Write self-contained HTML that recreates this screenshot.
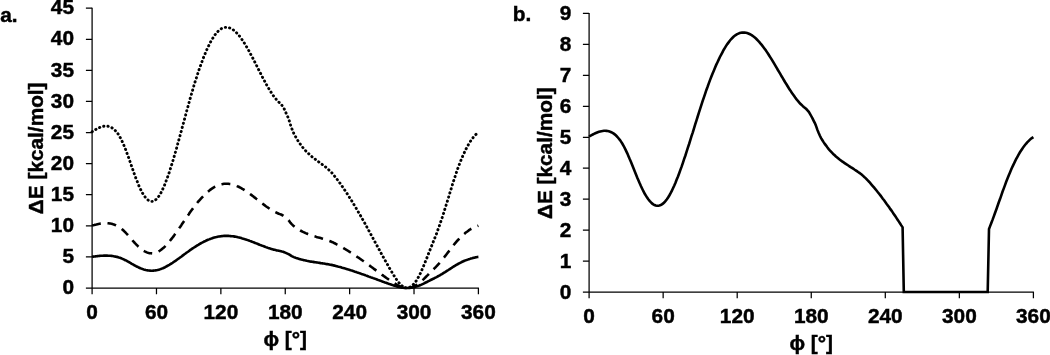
<!DOCTYPE html>
<html lang="en"><head><meta charset="utf-8"><title>Torsional energy profiles</title>
<style>
html,body{margin:0;padding:0;background:#fff;}
body{width:1050px;height:355px;overflow:hidden;}
svg{display:block;}
</style></head><body>
<svg width="1050" height="355" viewBox="0 0 1050 355">
<rect width="1050" height="355" fill="#fff"/>
<g font-family="'Liberation Sans', sans-serif" font-weight="bold" font-size="20.8" fill="#000" stroke="#000" stroke-width="0.45">
<text transform="translate(0.20,22.30) scale(1,1)" text-anchor="start" font-size="20.8">a.</text>
<text transform="translate(512.70,21.30) scale(1,1)" text-anchor="start" font-size="20.8">b.</text>
<g stroke="#000" stroke-width="1.25" fill="none" shape-rendering="auto">
<path d="M92.10,7.68 V294.20 M85.90,288.00 H478.90"/>
<path d="M85.90,256.91 H92.10 M85.90,225.82 H92.10 M85.90,194.73 H92.10 M85.90,163.64 H92.10 M85.90,132.54 H92.10 M85.90,101.45 H92.10 M85.90,70.36 H92.10 M85.90,39.27 H92.10 M85.90,8.18 H92.10 M156.48,288.00 V294.20 M220.87,288.00 V294.20 M285.25,288.00 V294.20 M349.63,288.00 V294.20 M414.02,288.00 V294.20 M478.40,288.00 V294.20 "/>
</g>
<text transform="translate(74.00,294.20) scale(1,1)" text-anchor="end" font-size="20.8">0</text>
<text transform="translate(74.00,263.11) scale(1,1)" text-anchor="end" font-size="20.8">5</text>
<text transform="translate(74.00,232.02) scale(1,1)" text-anchor="end" font-size="20.8">10</text>
<text transform="translate(74.00,200.93) scale(1,1)" text-anchor="end" font-size="20.8">15</text>
<text transform="translate(74.00,169.84) scale(1,1)" text-anchor="end" font-size="20.8">20</text>
<text transform="translate(74.00,138.74) scale(1,1)" text-anchor="end" font-size="20.8">25</text>
<text transform="translate(74.00,107.65) scale(1,1)" text-anchor="end" font-size="20.8">30</text>
<text transform="translate(74.00,76.56) scale(1,1)" text-anchor="end" font-size="20.8">35</text>
<text transform="translate(74.00,45.47) scale(1,1)" text-anchor="end" font-size="20.8">40</text>
<text transform="translate(74.00,14.38) scale(1,1)" text-anchor="end" font-size="20.8">45</text>
<text transform="translate(92.10,319.20) scale(1,1)" text-anchor="middle" font-size="20.8">0</text>
<text transform="translate(156.48,319.20) scale(1,1)" text-anchor="middle" font-size="20.8">60</text>
<text transform="translate(220.87,319.20) scale(1,1)" text-anchor="middle" font-size="20.8">120</text>
<text transform="translate(285.25,319.20) scale(1,1)" text-anchor="middle" font-size="20.8">180</text>
<text transform="translate(349.63,319.20) scale(1,1)" text-anchor="middle" font-size="20.8">240</text>
<text transform="translate(414.02,319.20) scale(1,1)" text-anchor="middle" font-size="20.8">300</text>
<text transform="translate(478.40,319.20) scale(1,1)" text-anchor="middle" font-size="20.8">360</text>
<text transform="translate(43.40,148.30) rotate(-90) scale(1,1)" text-anchor="middle" font-size="20.8">ΔE [kcal/mol]</text>
<text transform="translate(285.25,346.10) scale(1,1)" text-anchor="middle" font-size="20.8">ϕ [°]</text>
<g stroke="#000" stroke-width="1.25" fill="none" shape-rendering="auto">
<path d="M589.10,12.96 V298.20 M582.90,292.00 H1033.90"/>
<path d="M582.90,261.05 H589.10 M582.90,230.10 H589.10 M582.90,199.15 H589.10 M582.90,168.20 H589.10 M582.90,137.26 H589.10 M582.90,106.31 H589.10 M582.90,75.36 H589.10 M582.90,44.41 H589.10 M582.90,13.46 H589.10 M663.15,292.00 V298.20 M737.20,292.00 V298.20 M811.25,292.00 V298.20 M885.30,292.00 V298.20 M959.35,292.00 V298.20 M1033.40,292.00 V298.20 "/>
</g>
<text transform="translate(571.30,298.70) scale(1,1)" text-anchor="end" font-size="20.8">0</text>
<text transform="translate(571.30,267.75) scale(1,1)" text-anchor="end" font-size="20.8">1</text>
<text transform="translate(571.30,236.80) scale(1,1)" text-anchor="end" font-size="20.8">2</text>
<text transform="translate(571.30,205.85) scale(1,1)" text-anchor="end" font-size="20.8">3</text>
<text transform="translate(571.30,174.90) scale(1,1)" text-anchor="end" font-size="20.8">4</text>
<text transform="translate(571.30,143.96) scale(1,1)" text-anchor="end" font-size="20.8">5</text>
<text transform="translate(571.30,113.01) scale(1,1)" text-anchor="end" font-size="20.8">6</text>
<text transform="translate(571.30,82.06) scale(1,1)" text-anchor="end" font-size="20.8">7</text>
<text transform="translate(571.30,51.11) scale(1,1)" text-anchor="end" font-size="20.8">8</text>
<text transform="translate(571.30,20.16) scale(1,1)" text-anchor="end" font-size="20.8">9</text>
<text transform="translate(589.10,323.00) scale(1,1)" text-anchor="middle" font-size="20.8">0</text>
<text transform="translate(663.15,323.00) scale(1,1)" text-anchor="middle" font-size="20.8">60</text>
<text transform="translate(737.20,323.00) scale(1,1)" text-anchor="middle" font-size="20.8">120</text>
<text transform="translate(811.25,323.00) scale(1,1)" text-anchor="middle" font-size="20.8">180</text>
<text transform="translate(885.30,323.00) scale(1,1)" text-anchor="middle" font-size="20.8">240</text>
<text transform="translate(959.35,323.00) scale(1,1)" text-anchor="middle" font-size="20.8">300</text>
<text transform="translate(1033.40,323.00) scale(1,1)" text-anchor="middle" font-size="20.8">360</text>
<text transform="translate(552.10,153.20) rotate(-90) scale(1,1)" text-anchor="middle" font-size="20.8">ΔE [kcal/mol]</text>
<text transform="translate(811.25,350.10) scale(1,1)" text-anchor="middle" font-size="20.8">ϕ [°]</text>
</g>
<g fill="none" stroke="#000" stroke-width="2.6" stroke-linejoin="round">
<path d="M92.1,131.8 L93.2,131.1 L94.2,130.4 L95.3,129.8 L96.4,129.1 L97.5,128.6 L98.5,128.0 L99.6,127.5 L100.7,127.1 L101.8,126.7 L102.8,126.4 L103.9,126.2 L105.0,126.1 L106.0,126.1 L107.1,126.1 L108.2,126.3 L109.3,126.6 L110.3,127.0 L111.4,127.5 L112.5,128.2 L113.6,129.0 L114.6,129.9 L115.7,131.0 L116.8,132.3 L117.9,133.7 L118.9,135.4 L120.0,137.2 L121.1,139.1 L122.1,141.3 L123.2,143.7 L124.3,146.3 L125.4,148.9 L126.4,151.7 L127.5,154.7 L128.6,157.6 L129.7,160.7 L130.7,163.7 L131.8,166.8 L132.9,169.9 L133.9,172.9 L135.0,175.9 L136.1,178.8 L137.2,181.5 L138.2,184.2 L139.3,186.7 L140.4,189.0 L141.5,191.2 L142.5,193.1 L143.6,194.9 L144.7,196.5 L145.8,197.8 L146.8,199.0 L147.9,199.9 L149.0,200.6 L150.0,201.1 L151.1,201.4 L152.2,201.4 L153.3,201.1 L154.3,200.7 L155.4,200.0 L156.5,199.0 L157.6,197.9 L158.6,196.5 L159.7,194.9 L160.8,193.1 L161.8,191.0 L162.9,188.8 L164.0,186.4 L165.1,183.8 L166.1,181.0 L167.2,178.2 L168.3,175.1 L169.4,172.0 L170.4,168.7 L171.5,165.3 L172.6,161.8 L173.7,158.2 L174.7,154.6 L175.8,150.9 L176.9,147.1 L177.9,143.2 L179.0,139.4 L180.1,135.4 L181.2,131.5 L182.2,127.5 L183.3,123.6 L184.4,119.6 L185.5,115.6 L186.5,111.7 L187.6,107.8 L188.7,103.9 L189.7,100.1 L190.8,96.3 L191.9,92.6 L193.0,88.9 L194.0,85.3 L195.1,81.8 L196.2,78.4 L197.3,75.1 L198.3,71.9 L199.4,68.7 L200.5,65.7 L201.6,62.7 L202.6,59.9 L203.7,57.1 L204.8,54.5 L205.8,51.9 L206.9,49.5 L208.0,47.1 L209.1,44.9 L210.1,42.8 L211.2,40.8 L212.3,39.0 L213.4,37.2 L214.4,35.6 L215.5,34.2 L216.6,32.8 L217.6,31.7 L218.7,30.6 L219.8,29.8 L220.9,29.0 L221.9,28.4 L223.0,27.9 L224.1,27.6 L225.2,27.4 L226.2,27.3 L227.3,27.4 L228.4,27.6 L229.5,27.9 L230.5,28.3 L231.6,28.8 L232.7,29.5 L233.7,30.2 L234.8,31.1 L235.9,32.1 L237.0,33.2 L238.0,34.3 L239.1,35.6 L240.2,37.0 L241.3,38.4 L242.3,40.0 L243.4,41.6 L244.5,43.3 L245.5,45.0 L246.6,46.8 L247.7,48.7 L248.8,50.6 L249.8,52.6 L250.9,54.6 L252.0,56.6 L253.1,58.7 L254.1,60.7 L255.2,62.8 L256.3,65.0 L257.4,67.1 L258.4,69.2 L259.5,71.3 L260.6,73.4 L261.6,75.5 L262.7,77.6 L263.8,79.6 L264.9,81.6 L265.9,83.6 L267.0,85.5 L268.1,87.4 L269.2,89.2 L270.2,90.9 L271.3,92.6 L272.4,94.2 L273.4,95.8 L274.5,97.2 L275.6,98.6 L276.7,99.9 L277.7,101.1 L278.8,102.1 L279.9,103.1 L281.0,104.2 L282.0,105.4 L283.1,107.0 L284.2,108.9 L285.2,111.2 L286.3,113.6 L287.4,116.0 L288.5,118.5 L289.5,121.6 L290.6,125.2 L291.7,128.3 L292.8,131.0 L293.8,133.4 L294.9,135.5 L296.0,137.4 L297.1,139.2 L298.1,141.0 L299.2,142.6 L300.3,144.1 L301.3,145.6 L302.4,147.0 L303.5,148.3 L304.6,149.5 L305.6,150.7 L306.7,151.8 L307.8,152.9 L308.9,153.9 L309.9,154.9 L311.0,155.9 L312.1,156.8 L313.1,157.6 L314.2,158.5 L315.3,159.3 L316.4,160.2 L317.4,161.0 L318.5,161.8 L319.6,162.5 L320.7,163.3 L321.7,164.1 L322.8,164.9 L323.9,165.7 L325.0,166.6 L326.0,167.4 L327.1,168.3 L328.2,169.3 L329.2,170.3 L330.3,171.3 L331.4,172.4 L332.5,173.6 L333.5,174.9 L334.6,176.2 L335.7,177.5 L336.8,178.9 L337.8,180.3 L338.9,181.8 L340.0,183.2 L341.0,184.7 L342.1,186.3 L343.2,187.8 L344.3,189.4 L345.3,191.0 L346.4,192.6 L347.5,194.2 L348.6,195.9 L349.6,197.6 L350.7,199.3 L351.8,201.0 L352.9,202.7 L353.9,204.5 L355.0,206.3 L356.1,208.1 L357.1,209.9 L358.2,211.7 L359.3,213.6 L360.4,215.4 L361.4,217.3 L362.5,219.2 L363.6,221.1 L364.7,223.0 L365.7,224.9 L366.8,226.9 L367.9,228.8 L368.9,230.8 L370.0,232.8 L371.1,234.8 L372.2,236.7 L373.2,238.7 L374.3,240.7 L375.4,242.7 L376.5,244.7 L377.5,246.6 L378.6,248.6 L379.7,250.6 L380.8,252.6 L381.8,254.5 L382.9,256.5 L384.0,258.4 L385.0,260.3 L386.1,262.2 L387.2,264.1 L388.3,266.0 L389.3,267.9 L390.4,269.7 L391.5,271.5 L392.6,273.3 L393.6,275.1 L394.7,276.7 L395.8,278.4 L396.8,279.9 L397.9,281.3 L399.0,282.7 L400.1,283.9 L401.1,284.9 L402.2,285.9 L403.3,286.7 L404.4,287.3 L405.4,287.7 L406.5,287.9 L407.6,287.9 L408.7,287.7 L409.7,287.3 L410.8,286.7 L411.9,285.9 L412.9,284.9 L414.0,283.8 L415.1,282.4 L416.2,280.9 L417.2,279.2 L418.3,277.3 L419.4,275.3 L420.5,273.1 L421.5,270.8 L422.6,268.3 L423.7,265.8 L424.7,263.2 L425.8,260.6 L426.9,257.9 L428.0,255.1 L429.0,252.4 L430.1,249.7 L431.2,247.0 L432.3,244.3 L433.3,241.7 L434.4,239.0 L435.5,236.2 L436.6,233.5 L437.6,230.6 L438.7,227.7 L439.8,224.7 L440.8,221.6 L441.9,218.4 L443.0,215.1 L444.1,211.7 L445.1,208.3 L446.2,204.9 L447.3,201.4 L448.4,197.9 L449.4,194.4 L450.5,190.9 L451.6,187.4 L452.6,184.0 L453.7,180.6 L454.8,177.3 L455.9,174.1 L456.9,170.9 L458.0,167.9 L459.1,165.0 L460.2,162.2 L461.2,159.6 L462.3,157.0 L463.4,154.6 L464.5,152.2 L465.5,150.0 L466.6,147.9 L467.7,145.9 L468.7,144.0 L469.8,142.3 L470.9,140.6 L472.0,139.1 L473.0,137.7 L474.1,136.4 L475.2,135.2 L476.3,134.1 L477.3,133.2 L478.4,132.4" stroke-dasharray="0.3 4.0" stroke-width="2.9" stroke-linecap="round"/>
<path d="M92.1,225.5 L93.2,225.2 L94.2,225.0 L95.3,224.7 L96.4,224.5 L97.5,224.2 L98.5,224.0 L99.6,223.8 L100.7,223.6 L101.8,223.5 L102.8,223.4 L103.9,223.3 L105.0,223.2 L106.0,223.2 L107.1,223.2 L108.2,223.3 L109.3,223.4 L110.3,223.6 L111.4,223.8 L112.5,224.1 L113.6,224.4 L114.6,224.8 L115.7,225.2 L116.8,225.7 L117.9,226.3 L118.9,226.9 L120.0,227.7 L121.1,228.5 L122.1,229.3 L123.2,230.3 L124.3,231.3 L125.4,232.4 L126.4,233.5 L127.5,234.7 L128.6,235.9 L129.7,237.1 L130.7,238.3 L131.8,239.5 L132.9,240.8 L133.9,242.0 L135.0,243.2 L136.1,244.3 L137.2,245.4 L138.2,246.5 L139.3,247.5 L140.4,248.4 L141.5,249.3 L142.5,250.1 L143.6,250.8 L144.7,251.4 L145.8,251.9 L146.8,252.4 L147.9,252.8 L149.0,253.1 L150.0,253.2 L151.1,253.3 L152.2,253.4 L153.3,253.3 L154.3,253.1 L155.4,252.8 L156.5,252.4 L157.6,251.9 L158.6,251.4 L159.7,250.8 L160.8,250.0 L161.8,249.2 L162.9,248.3 L164.0,247.4 L165.1,246.3 L166.1,245.2 L167.2,244.1 L168.3,242.8 L169.4,241.6 L170.4,240.3 L171.5,238.9 L172.6,237.5 L173.7,236.1 L174.7,234.6 L175.8,233.1 L176.9,231.6 L177.9,230.1 L179.0,228.5 L180.1,227.0 L181.2,225.4 L182.2,223.8 L183.3,222.2 L184.4,220.6 L185.5,219.0 L186.5,217.5 L187.6,215.9 L188.7,214.4 L189.7,212.8 L190.8,211.3 L191.9,209.8 L193.0,208.4 L194.0,206.9 L195.1,205.5 L196.2,204.2 L197.3,202.8 L198.3,201.5 L199.4,200.3 L200.5,199.1 L201.6,197.9 L202.6,196.8 L203.7,195.7 L204.8,194.6 L205.8,193.6 L206.9,192.6 L208.0,191.7 L209.1,190.8 L210.1,189.9 L211.2,189.1 L212.3,188.4 L213.4,187.7 L214.4,187.0 L215.5,186.5 L216.6,185.9 L217.6,185.5 L218.7,185.1 L219.8,184.7 L220.9,184.4 L221.9,184.2 L223.0,184.0 L224.1,183.8 L225.2,183.8 L226.2,183.7 L227.3,183.8 L228.4,183.8 L229.5,184.0 L230.5,184.1 L231.6,184.3 L232.7,184.6 L233.7,184.9 L234.8,185.2 L235.9,185.6 L237.0,186.1 L238.0,186.5 L239.1,187.0 L240.2,187.6 L241.3,188.2 L242.3,188.8 L243.4,189.4 L244.5,190.1 L245.5,190.8 L246.6,191.5 L247.7,192.3 L248.8,193.0 L249.8,193.8 L250.9,194.6 L252.0,195.4 L253.1,196.3 L254.1,197.1 L255.2,197.9 L256.3,198.8 L257.4,199.6 L258.4,200.5 L259.5,201.3 L260.6,202.2 L261.6,203.0 L262.7,203.8 L263.8,204.6 L264.9,205.4 L265.9,206.2 L267.0,207.0 L268.1,207.7 L269.2,208.5 L270.2,209.2 L271.3,209.8 L272.4,210.5 L273.4,211.1 L274.5,211.7 L275.6,212.2 L276.7,212.8 L277.7,213.2 L278.8,213.7 L279.9,214.1 L281.0,214.5 L282.0,215.0 L283.1,215.6 L284.2,216.4 L285.2,217.3 L286.3,218.2 L287.4,219.2 L288.5,220.2 L289.5,221.4 L290.6,222.9 L291.7,224.1 L292.8,225.2 L293.8,226.1 L294.9,227.0 L296.0,227.8 L297.1,228.5 L298.1,229.2 L299.2,229.8 L300.3,230.5 L301.3,231.0 L302.4,231.6 L303.5,232.1 L304.6,232.6 L305.6,233.1 L306.7,233.5 L307.8,234.0 L308.9,234.4 L309.9,234.8 L311.0,235.1 L312.1,235.5 L313.1,235.9 L314.2,236.2 L315.3,236.5 L316.4,236.9 L317.4,237.2 L318.5,237.5 L319.6,237.8 L320.7,238.1 L321.7,238.4 L322.8,238.8 L323.9,239.1 L325.0,239.4 L326.0,239.8 L327.1,240.1 L328.2,240.5 L329.2,240.9 L330.3,241.3 L331.4,241.8 L332.5,242.2 L333.5,242.7 L334.6,243.3 L335.7,243.8 L336.8,244.4 L337.8,244.9 L338.9,245.5 L340.0,246.1 L341.0,246.7 L342.1,247.3 L343.2,247.9 L344.3,248.6 L345.3,249.2 L346.4,249.8 L347.5,250.5 L348.6,251.2 L349.6,251.8 L350.7,252.5 L351.8,253.2 L352.9,253.9 L353.9,254.6 L355.0,255.3 L356.1,256.0 L357.1,256.8 L358.2,257.5 L359.3,258.2 L360.4,259.0 L361.4,259.7 L362.5,260.5 L363.6,261.2 L364.7,262.0 L365.7,262.8 L366.8,263.6 L367.9,264.3 L368.9,265.1 L370.0,265.9 L371.1,266.7 L372.2,267.5 L373.2,268.3 L374.3,269.1 L375.4,269.9 L376.5,270.7 L377.5,271.5 L378.6,272.2 L379.7,273.0 L380.8,273.8 L381.8,274.6 L382.9,275.4 L384.0,276.2 L385.0,276.9 L386.1,277.7 L387.2,278.5 L388.3,279.2 L389.3,279.9 L390.4,280.7 L391.5,281.4 L392.6,282.1 L393.6,282.8 L394.7,283.5 L395.8,284.1 L396.8,284.8 L397.9,285.3 L399.0,285.9 L400.1,286.3 L401.1,286.8 L402.2,287.2 L403.3,287.5 L404.4,287.7 L405.4,287.9 L406.5,288.0 L407.6,288.0 L408.7,287.9 L409.7,287.7 L410.8,287.5 L411.9,287.2 L412.9,286.8 L414.0,286.3 L415.1,285.8 L416.2,285.1 L417.2,284.5 L418.3,283.7 L419.4,282.9 L420.5,282.0 L421.5,281.1 L422.6,280.1 L423.7,279.1 L424.7,278.1 L425.8,277.0 L426.9,275.9 L428.0,274.9 L429.0,273.8 L430.1,272.7 L431.2,271.6 L432.3,270.5 L433.3,269.5 L434.4,268.4 L435.5,267.3 L436.6,266.2 L437.6,265.1 L438.7,263.9 L439.8,262.7 L440.8,261.4 L441.9,260.2 L443.0,258.8 L444.1,257.5 L445.1,256.1 L446.2,254.7 L447.3,253.3 L448.4,251.9 L449.4,250.5 L450.5,249.1 L451.6,247.8 L452.6,246.4 L453.7,245.0 L454.8,243.7 L455.9,242.4 L456.9,241.2 L458.0,240.0 L459.1,238.8 L460.2,237.7 L461.2,236.6 L462.3,235.6 L463.4,234.6 L464.5,233.7 L465.5,232.8 L466.6,232.0 L467.7,231.2 L468.7,230.4 L469.8,229.7 L470.9,229.0 L472.0,228.4 L473.0,227.9 L474.1,227.4 L475.2,226.9 L476.3,226.5 L477.3,226.1 L478.4,225.7" stroke-dasharray="8.9 6.7"/>
<path d="M92.1,256.8 L93.2,256.6 L94.2,256.5 L95.3,256.4 L96.4,256.2 L97.5,256.1 L98.5,256.0 L99.6,255.9 L100.7,255.8 L101.8,255.7 L102.8,255.7 L103.9,255.6 L105.0,255.6 L106.0,255.6 L107.1,255.6 L108.2,255.7 L109.3,255.7 L110.3,255.8 L111.4,255.9 L112.5,256.0 L113.6,256.2 L114.6,256.4 L115.7,256.6 L116.8,256.9 L117.9,257.1 L118.9,257.5 L120.0,257.8 L121.1,258.2 L122.1,258.7 L123.2,259.1 L124.3,259.7 L125.4,260.2 L126.4,260.7 L127.5,261.3 L128.6,261.9 L129.7,262.5 L130.7,263.1 L131.8,263.8 L132.9,264.4 L133.9,265.0 L135.0,265.6 L136.1,266.2 L137.2,266.7 L138.2,267.2 L139.3,267.7 L140.4,268.2 L141.5,268.6 L142.5,269.0 L143.6,269.4 L144.7,269.7 L145.8,270.0 L146.8,270.2 L147.9,270.4 L149.0,270.5 L150.0,270.6 L151.1,270.7 L152.2,270.7 L153.3,270.6 L154.3,270.5 L155.4,270.4 L156.5,270.2 L157.6,270.0 L158.6,269.7 L159.7,269.4 L160.8,269.0 L161.8,268.6 L162.9,268.2 L164.0,267.7 L165.1,267.2 L166.1,266.6 L167.2,266.0 L168.3,265.4 L169.4,264.8 L170.4,264.1 L171.5,263.5 L172.6,262.8 L173.7,262.0 L174.7,261.3 L175.8,260.6 L176.9,259.8 L177.9,259.0 L179.0,258.3 L180.1,257.5 L181.2,256.7 L182.2,255.9 L183.3,255.1 L184.4,254.3 L185.5,253.5 L186.5,252.7 L187.6,252.0 L188.7,251.2 L189.7,250.4 L190.8,249.7 L191.9,248.9 L193.0,248.2 L194.0,247.5 L195.1,246.8 L196.2,246.1 L197.3,245.4 L198.3,244.8 L199.4,244.1 L200.5,243.5 L201.6,242.9 L202.6,242.4 L203.7,241.8 L204.8,241.3 L205.8,240.8 L206.9,240.3 L208.0,239.8 L209.1,239.4 L210.1,239.0 L211.2,238.6 L212.3,238.2 L213.4,237.8 L214.4,237.5 L215.5,237.2 L216.6,237.0 L217.6,236.7 L218.7,236.5 L219.8,236.4 L220.9,236.2 L221.9,236.1 L223.0,236.0 L224.1,235.9 L225.2,235.9 L226.2,235.9 L227.3,235.9 L228.4,235.9 L229.5,236.0 L230.5,236.1 L231.6,236.2 L232.7,236.3 L233.7,236.4 L234.8,236.6 L235.9,236.8 L237.0,237.0 L238.0,237.3 L239.1,237.5 L240.2,237.8 L241.3,238.1 L242.3,238.4 L243.4,238.7 L244.5,239.1 L245.5,239.4 L246.6,239.8 L247.7,240.1 L248.8,240.5 L249.8,240.9 L250.9,241.3 L252.0,241.7 L253.1,242.1 L254.1,242.5 L255.2,243.0 L256.3,243.4 L257.4,243.8 L258.4,244.2 L259.5,244.7 L260.6,245.1 L261.6,245.5 L262.7,245.9 L263.8,246.3 L264.9,246.7 L265.9,247.1 L267.0,247.5 L268.1,247.9 L269.2,248.2 L270.2,248.6 L271.3,248.9 L272.4,249.2 L273.4,249.6 L274.5,249.8 L275.6,250.1 L276.7,250.4 L277.7,250.6 L278.8,250.8 L279.9,251.0 L281.0,251.2 L282.0,251.5 L283.1,251.8 L284.2,252.2 L285.2,252.6 L286.3,253.1 L287.4,253.6 L288.5,254.1 L289.5,254.7 L290.6,255.4 L291.7,256.1 L292.8,256.6 L293.8,257.1 L294.9,257.5 L296.0,257.9 L297.1,258.2 L298.1,258.6 L299.2,258.9 L300.3,259.2 L301.3,259.5 L302.4,259.8 L303.5,260.1 L304.6,260.3 L305.6,260.5 L306.7,260.8 L307.8,261.0 L308.9,261.2 L309.9,261.4 L311.0,261.6 L312.1,261.8 L313.1,261.9 L314.2,262.1 L315.3,262.3 L316.4,262.4 L317.4,262.6 L318.5,262.8 L319.6,262.9 L320.7,263.1 L321.7,263.2 L322.8,263.4 L323.9,263.5 L325.0,263.7 L326.0,263.9 L327.1,264.1 L328.2,264.3 L329.2,264.5 L330.3,264.7 L331.4,264.9 L332.5,265.1 L333.5,265.4 L334.6,265.6 L335.7,265.9 L336.8,266.2 L337.8,266.5 L338.9,266.8 L340.0,267.0 L341.0,267.3 L342.1,267.7 L343.2,268.0 L344.3,268.3 L345.3,268.6 L346.4,268.9 L347.5,269.2 L348.6,269.6 L349.6,269.9 L350.7,270.3 L351.8,270.6 L352.9,270.9 L353.9,271.3 L355.0,271.7 L356.1,272.0 L357.1,272.4 L358.2,272.7 L359.3,273.1 L360.4,273.5 L361.4,273.9 L362.5,274.2 L363.6,274.6 L364.7,275.0 L365.7,275.4 L366.8,275.8 L367.9,276.2 L368.9,276.6 L370.0,277.0 L371.1,277.4 L372.2,277.7 L373.2,278.1 L374.3,278.5 L375.4,278.9 L376.5,279.3 L377.5,279.7 L378.6,280.1 L379.7,280.5 L380.8,280.9 L381.8,281.3 L382.9,281.7 L384.0,282.1 L385.0,282.5 L386.1,282.8 L387.2,283.2 L388.3,283.6 L389.3,284.0 L390.4,284.3 L391.5,284.7 L392.6,285.1 L393.6,285.4 L394.7,285.7 L395.8,286.1 L396.8,286.4 L397.9,286.7 L399.0,286.9 L400.1,287.2 L401.1,287.4 L402.2,287.6 L403.3,287.7 L404.4,287.9 L405.4,287.9 L406.5,288.0 L407.6,288.0 L408.7,287.9 L409.7,287.9 L410.8,287.7 L411.9,287.6 L412.9,287.4 L414.0,287.2 L415.1,286.9 L416.2,286.6 L417.2,286.2 L418.3,285.9 L419.4,285.5 L420.5,285.0 L421.5,284.6 L422.6,284.1 L423.7,283.6 L424.7,283.0 L425.8,282.5 L426.9,282.0 L428.0,281.4 L429.0,280.9 L430.1,280.3 L431.2,279.8 L432.3,279.3 L433.3,278.7 L434.4,278.2 L435.5,277.6 L436.6,277.1 L437.6,276.5 L438.7,275.9 L439.8,275.3 L440.8,274.7 L441.9,274.1 L443.0,273.4 L444.1,272.7 L445.1,272.1 L446.2,271.4 L447.3,270.7 L448.4,270.0 L449.4,269.3 L450.5,268.6 L451.6,267.9 L452.6,267.2 L453.7,266.5 L454.8,265.9 L455.9,265.2 L456.9,264.6 L458.0,264.0 L459.1,263.4 L460.2,262.8 L461.2,262.3 L462.3,261.8 L463.4,261.3 L464.5,260.8 L465.5,260.4 L466.6,260.0 L467.7,259.6 L468.7,259.2 L469.8,258.9 L470.9,258.5 L472.0,258.2 L473.0,257.9 L474.1,257.7 L475.2,257.4 L476.3,257.2 L477.3,257.0 L478.4,256.9"/>
<path d="M589.1,136.5 L590.3,135.8 L591.6,135.1 L592.8,134.5 L594.0,133.9 L595.3,133.3 L596.5,132.8 L597.7,132.3 L599.0,131.8 L600.2,131.5 L601.4,131.2 L602.7,131.0 L603.9,130.8 L605.1,130.8 L606.4,130.9 L607.6,131.0 L608.8,131.3 L610.1,131.7 L611.3,132.2 L612.5,132.9 L613.8,133.7 L615.0,134.6 L616.3,135.8 L617.5,137.0 L618.7,138.5 L620.0,140.1 L621.2,141.9 L622.4,143.8 L623.7,146.0 L624.9,148.4 L626.1,150.9 L627.4,153.6 L628.6,156.4 L629.8,159.3 L631.1,162.2 L632.3,165.3 L633.5,168.3 L634.8,171.4 L636.0,174.4 L637.2,177.4 L638.5,180.4 L639.7,183.3 L640.9,186.0 L642.2,188.7 L643.4,191.2 L644.6,193.5 L645.9,195.6 L647.1,197.6 L648.3,199.3 L649.6,200.9 L650.8,202.2 L652.0,203.4 L653.3,204.3 L654.5,205.0 L655.7,205.5 L657.0,205.8 L658.2,205.8 L659.4,205.5 L660.7,205.1 L661.9,204.4 L663.2,203.4 L664.4,202.3 L665.6,200.9 L666.9,199.3 L668.1,197.5 L669.3,195.5 L670.6,193.2 L671.8,190.8 L673.0,188.3 L674.3,185.5 L675.5,182.7 L676.7,179.6 L678.0,176.5 L679.2,173.2 L680.4,169.9 L681.7,166.4 L682.9,162.8 L684.1,159.2 L685.4,155.5 L686.6,151.7 L687.8,147.9 L689.1,144.0 L690.3,140.1 L691.5,136.2 L692.8,132.3 L694.0,128.3 L695.2,124.4 L696.5,120.4 L697.7,116.5 L698.9,112.6 L700.2,108.7 L701.4,104.9 L702.6,101.2 L703.9,97.4 L705.1,93.8 L706.3,90.2 L707.6,86.8 L708.8,83.4 L710.0,80.1 L711.3,76.8 L712.5,73.7 L713.8,70.7 L715.0,67.8 L716.2,64.9 L717.5,62.2 L718.7,59.6 L719.9,57.0 L721.2,54.6 L722.4,52.3 L723.6,50.0 L724.9,47.9 L726.1,45.9 L727.3,44.1 L728.6,42.4 L729.8,40.8 L731.0,39.3 L732.3,38.0 L733.5,36.8 L734.7,35.8 L736.0,34.9 L737.2,34.2 L738.4,33.6 L739.7,33.1 L740.9,32.8 L742.1,32.6 L743.4,32.5 L744.6,32.6 L745.8,32.8 L747.1,33.1 L748.3,33.5 L749.5,34.0 L750.8,34.7 L752.0,35.4 L753.2,36.3 L754.5,37.3 L755.7,38.3 L756.9,39.5 L758.2,40.8 L759.4,42.1 L760.6,43.6 L761.9,45.1 L763.1,46.7 L764.4,48.4 L765.6,50.1 L766.8,51.9 L768.1,53.8 L769.3,55.7 L770.5,57.6 L771.8,59.6 L773.0,61.7 L774.2,63.7 L775.5,65.8 L776.7,67.9 L777.9,70.0 L779.2,72.1 L780.4,74.2 L781.6,76.3 L782.9,78.4 L784.1,80.5 L785.3,82.5 L786.6,84.5 L787.8,86.5 L789.0,88.5 L790.3,90.4 L791.5,92.3 L792.7,94.1 L794.0,95.8 L795.2,97.5 L796.4,99.1 L797.7,100.7 L798.9,102.1 L800.1,103.5 L801.4,104.7 L802.6,105.9 L803.8,107.0 L805.1,108.0 L806.3,109.0 L807.5,110.3 L808.8,111.8 L810.0,113.8 L811.2,116.0 L812.5,118.4 L813.7,120.8 L815.0,123.3 L816.2,126.4 L817.4,129.9 L818.7,133.1 L819.9,135.8 L821.1,138.1 L822.4,140.2 L823.6,142.1 L824.8,143.9 L826.1,145.6 L827.3,147.3 L828.5,148.8 L829.8,150.3 L831.0,151.6 L832.2,152.9 L833.5,154.2 L834.7,155.3 L835.9,156.5 L837.2,157.5 L838.4,158.5 L839.6,159.5 L840.9,160.5 L842.1,161.4 L843.3,162.2 L844.6,163.1 L845.8,163.9 L847.0,164.7 L848.3,165.5 L849.5,166.3 L850.7,167.1 L852.0,167.9 L853.2,168.7 L854.4,169.5 L855.7,170.3 L856.9,171.1 L858.1,172.0 L859.4,172.9 L860.6,173.8 L861.9,174.8 L863.1,175.9 L864.3,177.0 L865.6,178.1 L866.8,179.4 L868.0,180.7 L869.3,182.0 L870.5,183.4 L871.7,184.8 L873.0,186.3 L874.2,187.7 L875.4,189.2 L876.7,190.7 L877.9,192.3 L879.1,193.8 L880.4,195.4 L881.6,197.0 L882.8,198.7 L884.1,200.3 L885.3,202.0 L886.5,203.7 L887.8,205.4 L889.0,207.1 L890.2,208.9 L891.5,210.6 L892.7,212.4 L893.9,214.2 L895.2,216.1 L896.4,217.9 L897.6,219.7 L898.9,221.6 L900.1,223.5 L901.3,225.4 L902.6,227.3 L903.8,292.0 L905.0,292.0 L906.3,292.0 L907.5,292.0 L908.7,292.0 L910.0,292.0 L911.2,292.0 L912.5,292.0 L913.7,292.0 L914.9,292.0 L916.2,292.0 L917.4,292.0 L918.6,292.0 L919.9,292.0 L921.1,292.0 L922.3,292.0 L923.6,292.0 L924.8,292.0 L926.0,292.0 L927.3,292.0 L928.5,292.0 L929.7,292.0 L931.0,292.0 L932.2,292.0 L933.4,292.0 L934.7,292.0 L935.9,292.0 L937.1,292.0 L938.4,292.0 L939.6,292.0 L940.8,292.0 L942.1,292.0 L943.3,292.0 L944.5,292.0 L945.8,292.0 L947.0,292.0 L948.2,292.0 L949.5,292.0 L950.7,292.0 L951.9,292.0 L953.2,292.0 L954.4,292.0 L955.6,292.0 L956.9,292.0 L958.1,292.0 L959.4,292.0 L960.6,292.0 L961.8,292.0 L963.1,292.0 L964.3,292.0 L965.5,292.0 L966.8,292.0 L968.0,292.0 L969.2,292.0 L970.5,292.0 L971.7,292.0 L972.9,292.0 L974.2,292.0 L975.4,292.0 L976.6,292.0 L977.9,292.0 L979.1,292.0 L980.3,292.0 L981.6,292.0 L982.8,292.0 L984.0,292.0 L985.3,292.0 L986.5,292.0 L987.7,292.0 L989.0,229.0 L990.2,225.9 L991.4,222.7 L992.7,219.4 L993.9,216.1 L995.1,212.7 L996.4,209.2 L997.6,205.8 L998.8,202.3 L1000.1,198.8 L1001.3,195.3 L1002.5,191.8 L1003.8,188.4 L1005.0,185.1 L1006.2,181.8 L1007.5,178.6 L1008.7,175.5 L1010.0,172.5 L1011.2,169.6 L1012.4,166.8 L1013.7,164.2 L1014.9,161.6 L1016.1,159.2 L1017.4,156.8 L1018.6,154.6 L1019.8,152.5 L1021.1,150.5 L1022.3,148.7 L1023.5,146.9 L1024.8,145.3 L1026.0,143.8 L1027.2,142.4 L1028.5,141.1 L1029.7,139.9 L1030.9,138.8 L1032.2,137.9 L1033.4,137.1" stroke-width="2.6" stroke-linejoin="miter"/>
</g>
</svg>
</body></html>
